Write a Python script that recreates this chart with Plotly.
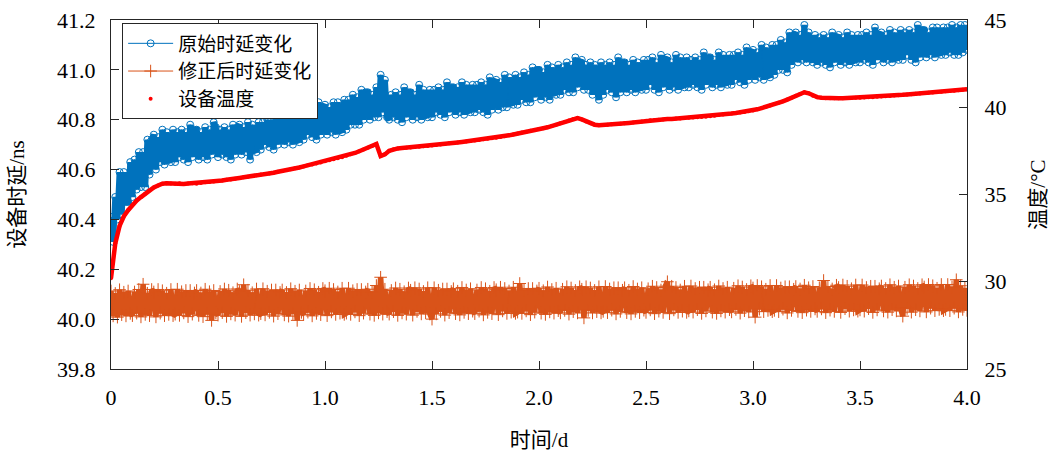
import numpy as np
import plotly.graph_objects as go

# ---------------- data ----------------
# sampling grid of the delay series (days), 0.01 d step
time_d = np.linspace(0, 4, 401)

# original device delay (ns)
raw_delay_ns = [
    40.41, 40.31, 40.49, 40.40, 40.59, 40.42, 40.59, 40.47, 40.47, 40.63,
    40.49, 40.64, 40.52, 40.67, 40.53, 40.67, 40.53, 40.72, 40.58, 40.72,
    40.74, 40.60, 40.73, 40.63, 40.76, 40.62, 40.75, 40.64, 40.63, 40.76,
    40.63, 40.75, 40.65, 40.76, 40.64, 40.75, 40.63, 40.78, 40.65, 40.76,
    40.76, 40.64, 40.75, 40.65, 40.77, 40.64, 40.76, 40.66, 40.79, 40.77,
    40.65, 40.76, 40.66, 40.77, 40.65, 40.76, 40.64, 40.78, 40.66, 40.77,
    40.78, 40.66, 40.77, 40.67, 40.79, 40.64, 40.78, 40.68, 40.67, 40.79,
    40.68, 40.79, 40.70, 40.80, 40.69, 40.80, 40.68, 40.83, 40.70, 40.81,
    40.82, 40.70, 40.81, 40.71, 40.83, 40.70, 40.82, 40.72, 40.71, 40.83,
    40.72, 40.84, 40.74, 40.85, 40.73, 40.84, 40.72, 40.87, 40.74, 40.85,
    40.86, 40.74, 40.85, 40.75, 40.87, 40.74, 40.87, 40.76, 40.75, 40.88,
    40.76, 40.88, 40.78, 40.90, 40.78, 40.89, 40.78, 40.92, 40.80, 40.91,
    40.91, 40.80, 40.90, 40.81, 40.93, 40.81, 40.98, 40.83, 40.96, 40.81,
    40.80, 40.90, 40.81, 40.91, 40.80, 40.90, 40.79, 40.93, 40.81, 40.91,
    40.91, 40.80, 40.90, 40.81, 40.94, 40.80, 40.92, 40.82, 40.81, 40.92,
    40.81, 40.92, 40.83, 40.93, 40.82, 40.92, 40.81, 40.95, 40.83, 40.93,
    40.93, 40.82, 40.93, 40.83, 40.95, 40.82, 40.94, 40.84, 40.83, 40.94,
    40.83, 40.94, 40.84, 40.95, 40.83, 40.94, 40.82, 40.97, 40.84, 40.95,
    40.96, 40.84, 40.95, 40.85, 40.98, 40.85, 40.97, 40.87, 40.86, 40.98,
    40.86, 40.97, 40.88, 40.99, 40.87, 40.98, 40.87, 41.01, 40.89, 41.00,
    41.00, 40.88, 40.99, 40.89, 41.02, 40.88, 41.01, 40.91, 40.90, 41.02,
    40.90, 41.01, 40.92, 41.03, 40.91, 41.02, 40.91, 41.05, 40.93, 41.03,
    41.04, 40.92, 41.02, 40.92, 41.03, 40.90, 41.02, 40.92, 40.88, 41.03,
    40.90, 41.02, 40.92, 41.03, 40.91, 41.02, 40.89, 41.05, 40.91, 41.03,
    41.03, 40.91, 41.02, 40.92, 41.04, 40.91, 41.03, 40.93, 40.92, 41.04,
    40.92, 41.04, 40.94, 41.05, 40.92, 41.03, 40.91, 41.06, 40.93, 41.04,
    41.05, 40.92, 41.03, 40.93, 41.06, 40.92, 41.05, 40.94, 40.93, 41.05,
    40.93, 41.04, 40.94, 41.05, 40.93, 41.04, 40.92, 41.07, 40.94, 41.05,
    41.05, 40.93, 41.04, 40.94, 41.07, 40.93, 41.06, 40.95, 40.94, 41.06,
    40.94, 41.06, 40.96, 41.07, 40.95, 41.06, 40.94, 41.09, 40.96, 41.07,
    41.08, 40.96, 41.07, 40.97, 41.10, 40.96, 41.09, 40.98, 40.97, 41.10,
    40.98, 41.10, 41.00, 41.12, 41.00, 41.11, 40.99, 41.15, 41.02, 41.14,
    41.15, 41.03, 41.14, 41.04, 41.18, 41.03, 41.15, 41.05, 41.03, 41.14,
    41.02, 41.13, 41.03, 41.14, 41.02, 41.13, 41.01, 41.15, 41.03, 41.13,
    41.14, 41.02, 41.13, 41.03, 41.15, 41.02, 41.14, 41.04, 41.03, 41.14,
    41.03, 41.14, 41.04, 41.15, 41.03, 41.14, 41.02, 41.17, 41.04, 41.14,
    41.15, 41.03, 41.14, 41.04, 41.16, 41.03, 41.15, 41.05, 41.04, 41.16,
    41.04, 41.15, 41.06, 41.16, 41.04, 41.15, 41.03, 41.18, 41.05, 41.16,
    41.16, 41.05, 41.15, 41.06, 41.17, 41.05, 41.17, 41.07, 41.06, 41.17,
    41.06, 41.17, 41.07, 41.18, 41.06, 41.17, 41.06, 41.18, 41.07, 41.18,
    41.08,
]

# corrected device delay (ns)
corrected_delay_ns = [
    40.113, 40.013, 40.103, 40.008, 40.118, 40.018, 40.108, 40.013, 40.113, 40.023,
    40.014, 40.109, 40.024, 40.119, 40.009, 40.140, 40.019, 40.104, 40.014, 40.119,
    40.109, 40.009, 40.119, 40.024, 40.114, 40.014, 40.104, 40.019, 40.119, 40.014,
    40.020, 40.120, 40.015, 40.110, 40.025, 40.115, 40.010, 40.115, 40.020, 40.105,
    40.115, 40.015, 40.105, 40.010, 40.120, 40.020, 40.110, 39.995, 40.115, 40.025,
    40.016, 40.111, 40.026, 40.121, 40.011, 40.116, 40.021, 40.106, 40.016, 40.121,
    40.111, 40.011, 40.138, 40.026, 40.116, 40.016, 40.106, 40.021, 40.121, 40.016,
    40.022, 40.122, 40.017, 40.112, 40.027, 40.117, 40.012, 40.117, 40.022, 40.107,
    40.117, 40.017, 40.107, 40.012, 40.122, 40.022, 40.112, 39.995, 40.117, 40.027,
    40.018, 40.113, 40.028, 40.123, 40.013, 40.118, 40.023, 40.108, 40.018, 40.123,
    40.114, 40.014, 40.124, 40.029, 40.119, 40.019, 40.109, 40.024, 40.124, 40.019,
    40.024, 40.124, 40.019, 40.114, 40.029, 40.119, 40.014, 40.119, 40.024, 40.109,
    40.120, 40.020, 40.110, 40.015, 40.135, 40.025, 40.168, 40.020, 40.120, 40.030,
    40.020, 40.115, 40.030, 40.125, 40.015, 40.120, 40.025, 40.110, 40.020, 40.125,
    40.116, 40.016, 40.126, 40.031, 40.121, 40.021, 40.111, 40.026, 40.126, 40.021,
    40.000, 40.126, 40.021, 40.116, 40.031, 40.121, 40.016, 40.121, 40.026, 40.111,
    40.122, 40.022, 40.112, 40.017, 40.127, 40.027, 40.117, 40.022, 40.122, 40.032,
    40.022, 40.117, 40.032, 40.127, 40.017, 40.122, 40.027, 40.112, 40.022, 40.127,
    40.118, 40.018, 40.128, 40.033, 40.123, 40.023, 40.113, 40.028, 40.128, 40.023,
    40.028, 40.143, 40.023, 40.118, 40.033, 40.123, 40.018, 40.123, 40.028, 40.113,
    40.124, 40.024, 40.114, 40.019, 40.129, 40.029, 40.119, 40.024, 40.124, 40.034,
    40.025, 40.120, 40.035, 40.130, 40.020, 40.125, 40.030, 40.115, 40.025, 40.130,
    40.120, 40.005, 40.130, 40.035, 40.125, 40.025, 40.115, 40.030, 40.130, 40.025,
    40.031, 40.131, 40.026, 40.121, 40.036, 40.126, 40.021, 40.126, 40.031, 40.116,
    40.126, 40.026, 40.116, 40.021, 40.131, 40.031, 40.121, 40.026, 40.126, 40.036,
    40.027, 40.122, 40.037, 40.132, 40.022, 40.127, 40.032, 40.117, 40.027, 40.132,
    40.150, 40.022, 40.132, 40.037, 40.127, 40.027, 40.117, 40.032, 40.132, 40.027,
    40.033, 40.133, 40.028, 40.123, 40.038, 40.128, 40.023, 40.128, 40.033, 40.118,
    40.128, 40.028, 40.118, 40.023, 40.133, 40.033, 40.123, 40.028, 40.128, 40.038,
    40.029, 40.124, 40.039, 40.134, 40.024, 40.129, 40.034, 40.119, 40.029, 40.134,
    40.125, 40.008, 40.135, 40.040, 40.130, 40.030, 40.120, 40.035, 40.135, 40.030,
    40.035, 40.135, 40.030, 40.125, 40.040, 40.130, 40.025, 40.130, 40.035, 40.120,
    40.131, 40.031, 40.121, 40.026, 40.136, 40.036, 40.126, 40.031, 40.131, 40.041,
    40.031, 40.126, 40.041, 40.155, 40.026, 40.131, 40.036, 40.121, 40.031, 40.136,
    40.127, 40.027, 40.137, 40.042, 40.132, 40.032, 40.122, 40.037, 40.137, 40.032,
    40.037, 40.137, 40.032, 40.127, 40.042, 40.132, 40.027, 40.132, 40.037, 40.122,
    40.133, 40.033, 40.123, 40.028, 40.138, 40.038, 40.128, 40.033, 40.133, 40.043,
    40.012, 40.128, 40.043, 40.138, 40.028, 40.133, 40.038, 40.123, 40.033, 40.138,
    40.129, 40.029, 40.139, 40.044, 40.134, 40.034, 40.124, 40.039, 40.139, 40.034,
    40.039, 40.139, 40.034, 40.129, 40.044, 40.158, 40.029, 40.134, 40.039, 40.124,
    40.035,
]

# sampling grid of the temperature series (days), 0.02 d step
temp_time_d = np.linspace(0, 4, 201)

# device temperature (deg C)
temperature_c = [
    30.20, 32.20, 33.20, 33.75, 34.10, 34.40, 34.65, 34.85, 35.05, 35.25,
    35.40, 35.52, 35.62, 35.65, 35.63, 35.62, 35.64, 35.60, 35.63, 35.65,
    35.62, 35.66, 35.70, 35.72, 35.75, 35.78, 35.80, 35.84, 35.86, 35.90,
    35.95, 35.99, 36.02, 36.06, 36.10, 36.14, 36.18, 36.21, 36.25, 36.30,
    36.34, 36.40, 36.45, 36.50, 36.55, 36.61, 36.67, 36.72, 36.78, 36.84,
    36.90, 36.96, 37.02, 37.08, 37.14, 37.22, 37.30, 37.38, 37.48, 37.58,
    37.68, 37.78, 37.90, 37.20, 37.30, 37.50, 37.60, 37.64, 37.66, 37.68,
    37.70, 37.72, 37.74, 37.76, 37.78, 37.81, 37.84, 37.87, 37.90, 37.93,
    37.95, 37.98, 38.01, 38.04, 38.07, 38.10, 38.13, 38.16, 38.19, 38.22,
    38.25, 38.29, 38.34, 38.39, 38.44, 38.50, 38.55, 38.60, 38.65, 38.70,
    38.75, 38.80, 38.85, 38.92, 39.00, 39.08, 39.16, 39.24, 39.32, 39.38,
    39.30, 39.18, 39.08, 39.00, 38.97, 38.98, 39.00, 39.02, 39.04, 39.06,
    39.08, 39.10, 39.12, 39.15, 39.18, 39.22, 39.25, 39.27, 39.29, 39.30,
    39.32, 39.33, 39.35, 39.36, 39.38, 39.40, 39.41, 39.42, 39.44, 39.46,
    39.49, 39.52, 39.55, 39.58, 39.61, 39.64, 39.67, 39.70, 39.73, 39.77,
    39.82, 39.88, 39.95, 40.02, 40.10, 40.18, 40.26, 40.34, 40.44, 40.55,
    40.66, 40.76, 40.86, 40.80, 40.66, 40.58, 40.54, 40.52, 40.51, 40.51,
    40.52, 40.52, 40.53, 40.53, 40.54, 40.55, 40.56, 40.57, 40.58, 40.60,
    40.62, 40.63, 40.65, 40.67, 40.69, 40.71, 40.73, 40.75, 40.77, 40.79,
    40.81, 40.83, 40.85, 40.87, 40.89, 40.91, 40.93, 40.95, 40.97, 41.00,
    41.03,
]

series_names = ["原始时延变化", "修正后时延变化", "设备温度"]

x_tick_vals = [0, 0.5, 1.0, 1.5, 2.0, 2.5, 3.0, 3.5, 4.0]
x_tick_text = ["0", "0.5", "1.0", "1.5", "2.0", "2.5", "3.0", "3.5", "4.0"]
y_tick_vals = [39.8, 40.0, 40.2, 40.4, 40.6, 40.8, 41.0, 41.2]
y_tick_text = ["39.8", "40.0", "40.2", "40.4", "40.6", "40.8", "41.0", "41.2"]
y2_tick_vals = [25, 30, 35, 40, 45]
y2_tick_text = ["25", "30", "35", "40", "45"]

# ---------------- styling ----------------
FONT = "Liberation Serif, Noto Sans CJK SC, serif"
AX = "#262626"
BLUE = "#0072BD"
ORANGE = "#D95319"
RED = "#FF0000"

fig = go.Figure()

# dense noisy samples: a thick path underneath (no legend) + thin line with markers on top
fig.add_trace(go.Scatter(
    x=time_d, y=raw_delay_ns, mode="lines", showlegend=False, hoverinfo="skip",
    line=dict(color=BLUE, width=6, simplify=False),
))
fig.add_trace(go.Scatter(
    x=time_d, y=corrected_delay_ns, mode="lines", showlegend=False, hoverinfo="skip",
    line=dict(color=ORANGE, width=5.5, simplify=False),
))
fig.add_trace(go.Scatter(
    x=time_d, y=raw_delay_ns, name=series_names[0], mode="lines+markers",
    line=dict(color=BLUE, width=1, simplify=False),
    marker=dict(symbol="circle-open", size=7, color=BLUE, line=dict(width=1, color=BLUE)),
))
fig.add_trace(go.Scatter(
    x=time_d, y=corrected_delay_ns, name=series_names[1], mode="lines+markers",
    line=dict(color=ORANGE, width=1, simplify=False),
    marker=dict(symbol="cross-thin-open", size=9, color=ORANGE, line=dict(width=1, color=ORANGE)),
))
fig.add_trace(go.Scatter(
    x=temp_time_d, y=temperature_c, mode="lines", showlegend=False, hoverinfo="skip",
    line=dict(color=RED, width=4.5), yaxis="y2",
))
fig.add_trace(go.Scatter(
    x=temp_time_d, y=temperature_c, name=series_names[2], mode="markers",
    marker=dict(color=RED, size=4), yaxis="y2",
))

fig.update_layout(
    width=1059, height=452,
    margin=dict(l=111, r=92, t=20, b=83),
    paper_bgcolor="white", plot_bgcolor="white",
    font=dict(family=FONT, size=22, color="#000000"),
    showlegend=True,
    legend=dict(
        x=0.013, y=0.99, xanchor="left", yanchor="top",
        bgcolor="white", bordercolor=AX, borderwidth=1,
        font=dict(family=FONT, size=19, color="#000000"),
        tracegroupgap=0, itemsizing="trace", itemwidth=45,
    ),
    xaxis=dict(
        range=[0, 4], tickvals=x_tick_vals, ticktext=x_tick_text, automargin=False,
        ticks="inside", ticklen=8, tickcolor=AX, showline=True, linecolor=AX, linewidth=1,
        mirror="ticks", showgrid=False, zeroline=False,
        tickfont=dict(family=FONT, size=22, color="#000000"),
        ticklabelstandoff=9,
        title=dict(text="时间/d", font=dict(family=FONT, size=21, color="#000000"), standoff=22),
    ),
    yaxis=dict(
        range=[39.8, 41.2], tickvals=y_tick_vals, ticktext=y_tick_text, automargin=False,
        ticks="inside", ticklen=8, tickcolor=AX, showline=True, linecolor=AX, linewidth=1,
        showgrid=False, zeroline=False,
        tickfont=dict(family=FONT, size=22, color="#000000"),
        ticklabelstandoff=10,
        title=dict(text="设备时延/ns", font=dict(family=FONT, size=21, color="#000000"), standoff=26),
    ),
    yaxis2=dict(
        range=[25, 45], tickvals=y2_tick_vals, ticktext=y2_tick_text, automargin=False,
        overlaying="y", side="right",
        ticks="inside", ticklen=8, tickcolor=AX, showline=True, linecolor=AX, linewidth=1,
        showgrid=False, zeroline=False,
        tickfont=dict(family=FONT, size=22, color="#000000"),
        ticklabelstandoff=12,
        title=dict(text="温度/°C", font=dict(family=FONT, size=21, color="#000000"), standoff=24),
    ),
)

fig.write_html("out.html")
